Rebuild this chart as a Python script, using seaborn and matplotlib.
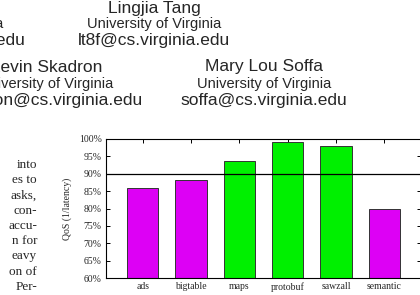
import matplotlib
matplotlib.use("Agg")
import matplotlib.pyplot as plt
import seaborn as sns

# --- data ---
benchmarks = ["ads", "bigtable", "maps", "protobuf", "sawzall", "semantic"]
qos = [86.0, 88.1, 93.6, 99.1, 97.9, 79.8]
bar_colors = ["#dd00f5", "#dd00f5", "#00f000", "#00f000", "#00f000", "#dd00f5"]
yticks = [60, 65, 70, 75, 80, 85, 90, 95, 100]
threshold = 90

# page text around the figure
paragraph = ["into", "es to", "asks,", "con-", "accu-", "n for", "eavy", "on of", "Per-"]

sns.set_theme(style="white")
plt.rcParams["font.family"] = ["Liberation Serif", "DejaVu Serif"]

W, H = 420, 295
fig = plt.figure(figsize=(W / 100, H / 100), dpi=100)


def fx(px):
    return px / W


def fy(py):
    return 1 - py / H


# --- author block (sans) ---
sans = ["Liberation Sans", "DejaVu Sans"]
fig.text(fx(154), fy(8), "Lingjia Tang", ha="center", va="center", fontsize=12.5, family=sans)
fig.text(fx(154), fy(24), "University of Virginia", ha="center", va="center", fontsize=10.5, family=sans)
fig.text(fx(154), fy(41), "lt8f@cs.virginia.edu", ha="center", va="center", fontsize=12.5, family=sans)
fig.text(fx(3.5), fy(24), "University of Virginia", ha="right", va="center", fontsize=10.5, family=sans)
fig.text(fx(25.5), fy(41), "mars@cs.virginia.edu", ha="right", va="center", fontsize=12.5, family=sans)

fig.text(fx(102), fy(67), "Kevin Skadron", ha="right", va="center", fontsize=12.5, family=sans)
fig.text(fx(113), fy(84), "University of Virginia", ha="right", va="center", fontsize=10.5, family=sans)
fig.text(fx(143), fy(101), "skadron@cs.virginia.edu", ha="right", va="center", fontsize=12.5, family=sans)
fig.text(fx(264), fy(67), "Mary Lou Soffa", ha="center", va="center", fontsize=12.5, family=sans)
fig.text(fx(264), fy(84), "University of Virginia", ha="center", va="center", fontsize=10.5, family=sans)
fig.text(fx(264), fy(101), "soffa@cs.virginia.edu", ha="center", va="center", fontsize=12.5, family=sans)

# --- body text fragment ---
for i, line in enumerate(paragraph):
    fig.text(fx(37), fy(165 + i * 15.25), line, ha="right", va="center", fontsize=9.5)

# --- chart ---
ax = fig.add_axes([fx(106), fy(278), (421 - 106) / W, (278 - 139) / H])
sns.barplot(x=benchmarks, y=qos, hue=benchmarks, palette=bar_colors, legend=False,
            width=0.65, edgecolor="#333333", linewidth=0.7, saturation=1, ax=ax)
ax.axhline(threshold, color="black", lw=0.9)

ax.set_xlim(-0.76, 5.76)
ax.set_ylim(60, 100)
ax.set_yticks(yticks)
ax.set_yticklabels([f"{v}%" for v in yticks])
ax.set_ylabel("QoS (1/latency)", fontsize=7, labelpad=5)
ax.set_xlabel("")

for s in ax.spines.values():
    s.set_color("black")
    s.set_linewidth(0.8)
ax.tick_params(axis="both", direction="in", length=3, width=0.7, color="black",
               labelsize=7, pad=3, top=True, right=True, bottom=True, left=True)

fig.savefig("out.png", dpi=100)
